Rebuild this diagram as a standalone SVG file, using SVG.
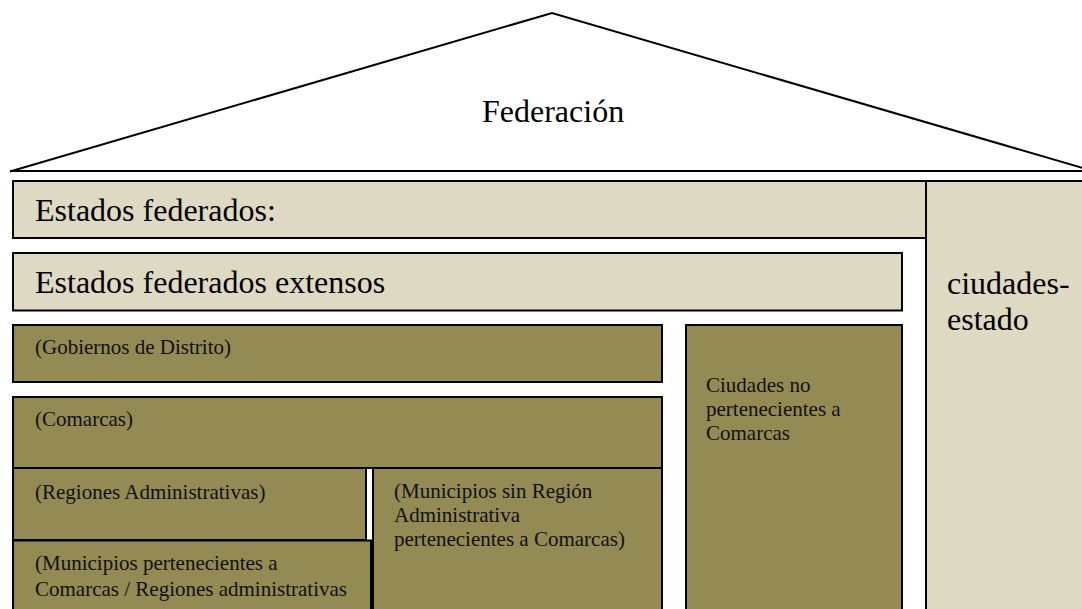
<svg xmlns="http://www.w3.org/2000/svg" width="1082" height="609" viewBox="0 0 1082 609">
<style>
.light{fill:#DDD9C3;stroke:#000;stroke-width:2}
.dark{fill:#948A54;stroke:#000;stroke-width:2}
.roof{fill:none;stroke:#000;stroke-width:2;stroke-linejoin:miter}
.big{font-size:32px;fill:#000}
.small{font-size:21px;fill:#111}
</style>
<rect width="1082" height="609" fill="#fff"/>
<g font-family="Liberation Serif, DejaVu Serif, serif">
<g id="federacion">
<polyline class="roof" points="10,171.5 552,13 1086,169"/>
<line class="roof" x1="10" y1="171" x2="1082" y2="171"/>
<text class="big" x="482" y="122">Federación</text>
</g>
<g id="ciudades-estado">
<rect class="light" x="926" y="181" width="170" height="440"/>
<text class="big" x="947" y="294">ciudades-</text>
<text class="big" x="947" y="330">estado</text>
</g>
<g id="estados-federados">
<rect class="light" x="13" y="181" width="913" height="57"/>
<text class="big" x="35" y="221">Estados federados:</text>
</g>
<g id="estados-extensos">
<rect class="light" x="13" y="253" width="889" height="57.5"/>
<text class="big" x="35" y="293">Estados federados extensos</text>
</g>
<g id="gobiernos">
<rect class="dark" x="13" y="325" width="649" height="57"/>
<text class="small" x="35" y="354">(Gobiernos de Distrito)</text>
</g>
<g id="ciudades-no">
<rect class="dark" x="686" y="325" width="216" height="300"/>
<text class="small" x="706" y="392">Ciudades no</text>
<text class="small" x="706" y="416">pertenecientes a</text>
<text class="small" x="706" y="440">Comarcas</text>
</g>
<g id="comarcas">
<rect class="dark" x="13" y="397" width="649" height="71"/>
<text class="small" x="35" y="426">(Comarcas)</text>
</g>
<g id="regiones">
<rect class="dark" x="13" y="468" width="353" height="72"/>
<text class="small" x="35" y="499">(Regiones Administrativas)</text>
</g>
<g id="municipios-sin-region">
<rect class="dark" x="373" y="468" width="289" height="160"/>
<text class="small" x="394" y="498">(Municipios sin Región</text>
<text class="small" x="394" y="522">Administrativa</text>
<text class="small" x="394" y="546">pertenecientes a Comarcas)</text>
</g>
<g id="municipios-pertenecientes">
<rect class="dark" x="13" y="540.5" width="358" height="90"/>
<text class="small" x="35" y="570">(Municipios pertenecientes a</text>
<text class="small" x="35" y="595.5">Comarcas / Regiones administrativas</text>
</g>
</g>
<g id="connectors"/>
</svg>
